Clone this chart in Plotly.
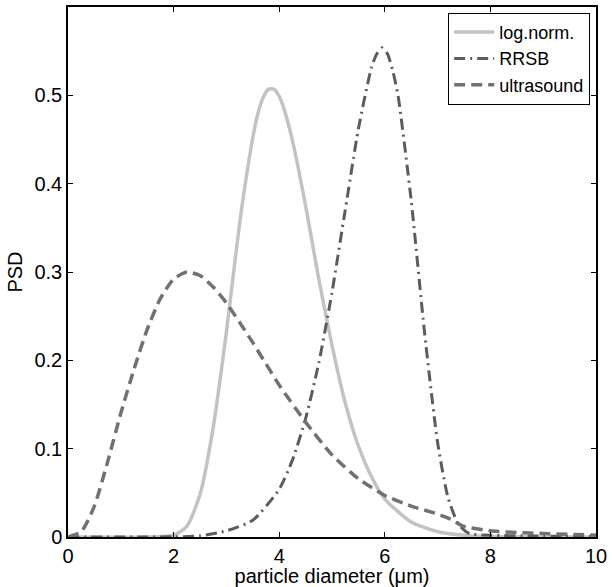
import plotly.graph_objects as go

# log-normal PSD
ln_x = [0, 1.5, 2.0, 2.25, 2.5, 2.75, 3.0, 3.25, 3.5, 3.6, 3.7, 3.8, 3.9, 4.0, 4.1, 4.25,
        4.5, 4.75, 5.0, 5.25, 5.5, 5.75, 6.0, 6.5, 7.0, 7.5, 8.0, 10.0]
ln_y = [0, 0, 0.002, 0.012, 0.048, 0.124, 0.232, 0.355, 0.452, 0.480, 0.498, 0.507, 0.507,
        0.499, 0.483, 0.449, 0.375, 0.292, 0.217, 0.152, 0.103, 0.068, 0.043, 0.017, 0.006,
        0.002, 0.0005, 0]

# RRSB PSD
rr_x = [0, 2.0, 2.5, 3.0, 3.5, 4.0, 4.25, 4.5, 4.75, 5.0, 5.25, 5.5, 5.75, 5.85, 5.95, 6.05,
        6.15, 6.25, 6.5, 6.75, 7.0, 7.2, 7.4, 7.6, 8.0, 9.0, 10.0]
rr_y = [0, 0.0002, 0.0013, 0.007, 0.019, 0.054, 0.087, 0.134, 0.197, 0.277, 0.370, 0.462,
        0.532, 0.547, 0.554, 0.547, 0.528, 0.500, 0.381, 0.233, 0.107, 0.044, 0.014, 0.004,
        0.002, 0.001, 0.0005]

# ultrasound PSD
us_x = [0, 0.25, 0.5, 0.75, 1.0, 1.25, 1.5, 1.75, 2.0, 2.25, 2.5, 2.75, 3.0, 3.25, 3.5,
        3.75, 4.0, 4.5, 5.0, 5.5, 6.0, 6.5, 7.0, 7.25, 7.5, 8.0, 8.5, 9.0, 9.5, 10.0]
us_y = [0, 0.006, 0.035, 0.085, 0.14, 0.19, 0.235, 0.27, 0.292, 0.300, 0.296, 0.283, 0.265,
        0.243, 0.22, 0.196, 0.172, 0.13, 0.093, 0.066, 0.047, 0.035, 0.026, 0.02, 0.012,
        0.007, 0.005, 0.004, 0.003, 0.002]

x_ticks = [0, 2, 4, 6, 8, 10]
y_ticks = [0, 0.1, 0.2, 0.3, 0.4, 0.5]
y_tick_text = ["0", "0.1", "0.2", "0.3", "0.4", "0.5"]

FONT = "Liberation Sans, Arial, Helvetica, sans-serif"

fig = go.Figure()
fig.add_trace(go.Scatter(x=ln_x, y=ln_y, mode="lines", name="log.norm.",
                         line=dict(color="#c3c3c3", width=3.5, shape="spline", smoothing=0.6)))
fig.add_trace(go.Scatter(x=rr_x, y=rr_y, mode="lines", name="RRSB",
                         line=dict(color="#5c5c5c", width=3, shape="spline", smoothing=0.6,
                                   dash="11px,5px,2px,5px")))
fig.add_trace(go.Scatter(x=us_x, y=us_y, mode="lines", name="ultrasound",
                         line=dict(color="#717171", width=3.5, shape="spline", smoothing=0.6,
                                   dash="11px,6px")))

axis_common = dict(showline=True, linecolor="black", linewidth=1.5, mirror="allticks",
                   ticks="inside", ticklen=5, tickcolor="black", showgrid=False,
                   zeroline=False, tickfont=dict(family=FONT, size=20, color="black"))

fig.update_layout(
    width=612, height=587,
    margin=dict(l=68, r=12, t=5, b=50),
    paper_bgcolor="white", plot_bgcolor="white",
    font=dict(family=FONT, size=20, color="black"),
    xaxis=dict(range=[0, 10], tickvals=x_ticks,
               title=dict(text="particle diameter (μm)", standoff=0,
                          font=dict(family=FONT, size=20)),
               **axis_common),
    yaxis=dict(range=[0, 0.6], tickvals=y_ticks, ticktext=y_tick_text,
               title=dict(text="PSD", standoff=6, font=dict(family=FONT, size=20)),
               **axis_common),
    legend=dict(x=0.989, y=0.989, xanchor="right", yanchor="top",
                bordercolor="black", borderwidth=1, bgcolor="white",
                font=dict(family=FONT, size=18), tracegroupgap=0,
                itemwidth=40),
    showlegend=True,
)

fig.write_html("out.html")
